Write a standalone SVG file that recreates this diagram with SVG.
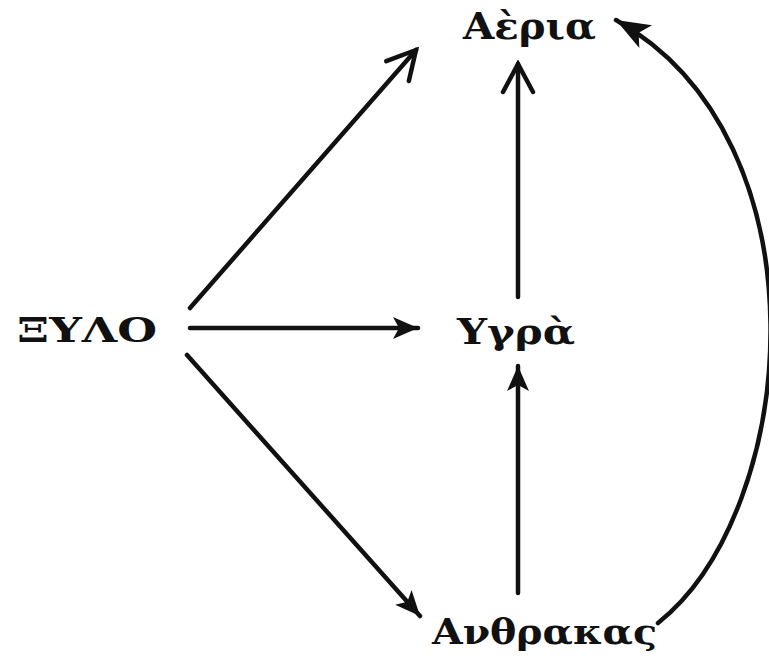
<svg xmlns="http://www.w3.org/2000/svg" width="769" height="656" viewBox="0 0 769 656">
  <style>
    .lbl { font-family: "DejaVu Serif", "Liberation Serif", serif; font-weight: bold; fill: #111; }
    .edge { stroke: #111; stroke-width: 4.5; fill: none; stroke-linecap: round; }
  </style>
  <defs>
    <marker id="open" markerUnits="userSpaceOnUse" viewBox="-36 -20 40 40" markerWidth="40" markerHeight="40" refX="0" refY="0" orient="auto">
      <path d="M -28 -15 L 0 0 L -28 15" fill="none" stroke="#111" stroke-width="4.5" stroke-linecap="round" stroke-linejoin="miter"/>
    </marker>
    <marker id="solid" markerUnits="userSpaceOnUse" viewBox="-28 -13 30 26" markerWidth="30" markerHeight="26" refX="0" refY="0" orient="auto">
      <path d="M 0 0 L -25 -11 L -19 0 L -25 11 Z" fill="#111"/>
    </marker>
    <marker id="solidBig" markerUnits="userSpaceOnUse" viewBox="-36 -15 38 30" markerWidth="38" markerHeight="30" refX="0" refY="0" orient="auto">
      <path d="M 0 0 L -34 -13 L -26 0 L -34 13 Z" fill="#111"/>
    </marker>
  </defs>
  <rect width="769" height="656" fill="#fff"/>

  <g id="connectors">
    <line class="edge" x1="190" y1="308" x2="416" y2="50" marker-end="url(#open)"/>
    <line class="edge" x1="190" y1="328" x2="418" y2="328" marker-end="url(#solid)"/>
    <line class="edge" x1="187" y1="355" x2="420" y2="616" marker-end="url(#solid)"/>
    <line class="edge" x1="518" y1="297" x2="518" y2="64" marker-end="url(#open)"/>
    <line class="edge" x1="518" y1="593" x2="518" y2="366" marker-end="url(#solid)"/>
    <path class="edge" d="M 658 623 C 800 510, 830 140, 616 20" marker-end="url(#solidBig)"/>
  </g>

  <g id="node-aeria">
    <text class="lbl" x="463" y="39" font-size="37" textLength="133" lengthAdjust="spacingAndGlyphs">Αὲρια</text>
  </g>
  <g id="node-xylo">
    <text class="lbl" x="17" y="342" font-size="34" textLength="140" lengthAdjust="spacingAndGlyphs">ΞΥΛΟ</text>
  </g>
  <g id="node-ygra">
    <text class="lbl" x="457" y="344" font-size="36" textLength="118" lengthAdjust="spacingAndGlyphs">Υγρὰ</text>
  </g>
  <g id="node-anthrakas">
    <text class="lbl" x="432" y="644" font-size="36" textLength="225" lengthAdjust="spacingAndGlyphs">Ανθρακας</text>
  </g>
</svg>
